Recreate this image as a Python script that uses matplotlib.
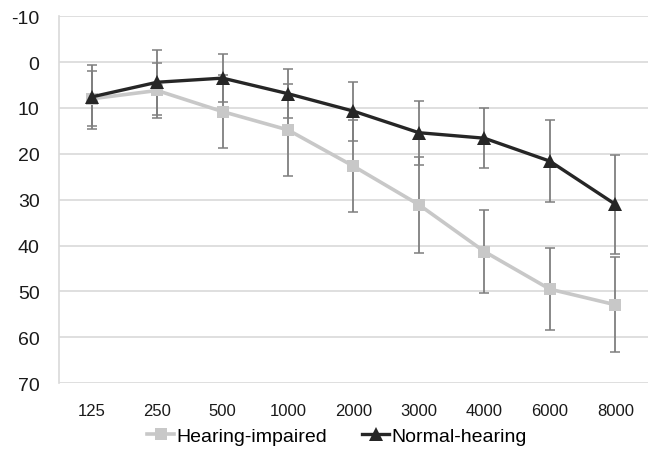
import matplotlib.pyplot as plt
import numpy as np

plt.rcParams['font.family'] = ['Liberation Sans', 'DejaVu Sans']
plt.rcParams['axes.unicode_minus'] = False

freqs = ['125', '250', '500', '1000', '2000', '3000', '4000', '6000', '8000']

# thresholds (dB)
impaired = [8.0, 6.2, 10.8, 14.8, 22.7, 31.1, 41.3, 49.5, 52.9]
impaired_err = [6.0, 6.0, 8.0, 10.0, 10.0, 10.5, 9.1, 9.0, 10.3]
normal = [7.6, 4.4, 3.5, 6.9, 10.7, 15.4, 16.6, 21.6, 31.0]
normal_err = [7.0, 7.1, 5.2, 5.3, 6.4, 7.0, 6.6, 9.0, 10.8]

x = np.arange(len(freqs))

fig = plt.figure(figsize=(6.48, 4.52), dpi=100)
ax = fig.add_axes([0.091, 0.150, 0.909, 0.812])

# grid behind everything
ax.set_yticks(range(-10, 71, 10))
ax.grid(axis='y', color='#d9d9d9', linewidth=1.2, zorder=0)
ax.set_axisbelow(True)

# error bars
ax.errorbar(x, impaired, yerr=impaired_err, fmt='none', ecolor='#7f7f7f',
            elinewidth=1.3, capsize=3.5, capthick=1.1, zorder=2)
ax.errorbar(x, normal, yerr=normal_err, fmt='none', ecolor='#7f7f7f',
            elinewidth=1.3, capsize=3.5, capthick=1.1, zorder=2)

# lines
ax.plot(x, impaired, color='#c8c8c8', linewidth=2.6, marker='s',
        markersize=9, markeredgewidth=0, label='Hearing-impaired', zorder=3)
ax.plot(x, normal, color='#262626', linewidth=2.4, marker='^',
        markersize=10, markeredgewidth=0, label='Normal-hearing', zorder=4)

ax.set_ylim(70, -10)
ax.set_xlim(-0.5, len(freqs) - 0.5)
ax.set_xticks(x, freqs)

ax.spines[['top', 'right', 'bottom']].set_visible(False)
ax.spines['left'].set_color('#d9d9d9')
ax.spines['left'].set_linewidth(1.2)

ax.tick_params(axis='y', length=0, labelsize=14, pad=14, colors='#1a1a1a')
ax.tick_params(axis='x', length=0, labelsize=12, pad=14, colors='#1a1a1a')

fig.legend(loc='lower center', bbox_to_anchor=(0.52, -0.025), ncol=2,
           frameon=False, fontsize=14, handlelength=1.4, handletextpad=0.1,
           columnspacing=1.8)

fig.patch.set_facecolor('white')
fig.savefig('out.png', dpi=100)
